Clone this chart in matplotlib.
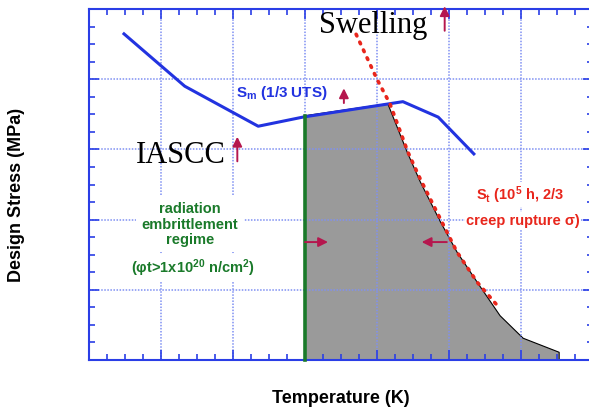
import numpy as np
import matplotlib
matplotlib.use('Agg')
from matplotlib import pyplot as plt
from matplotlib.ticker import MultipleLocator

plt.rcParams['mathtext.fontset'] = 'custom'
plt.rcParams['mathtext.rm'] = 'Liberation Sans'
plt.rcParams['mathtext.bf'] = 'Liberation Sans:bold'
plt.rcParams['mathtext.it'] = 'Liberation Sans:italic'

# S_m (1/3 UTS) curve
sm_T = [0.47, 1.33, 2.35, 2.97, 4.36, 4.85, 5.36]
sm_S = [4.66, 3.90, 3.33, 3.46, 3.68, 3.46, 2.92]

# S_t creep rupture curve (dotted)
st_T = [3.71, 4.00, 4.18, 4.43, 4.60, 4.88, 5.11, 5.39, 5.71]
st_S = [4.64, 4.00, 3.65, 2.96, 2.58, 2.01, 1.54, 1.11, 0.73]

# allowable design window (grey region)
win_T = [3.00, 3.00, 3.60, 4.15, 4.42, 4.60, 4.88, 5.11, 5.43, 5.71, 6.03, 6.53, 6.53]
win_S = [0.00, 3.48, 3.57, 3.65, 2.96, 2.54, 1.97, 1.54, 1.05, 0.63, 0.31, 0.11, 0.00]

# radiation embrittlement limit
rad_T = 3.0
rad_top = 3.48

blue = '#2233e0'
grid_blue = '#7f90f2'
spine_blue = '#2a3ee6'
red = '#e8261c'
green = '#1a7a2a'
crimson = '#b5174e'

fig = plt.figure(figsize=(5.89, 4.10), dpi=100)
ax = fig.add_axes([89/589, 49/410, 504/589, 351/410])
ax.set_xlim(0, 7)
ax.set_ylim(0, 5)

ax.fill(win_T, win_S, facecolor='#9a9a9a', edgecolor='black', lw=0.8, zorder=1)
ax.plot(sm_T, sm_S, color=blue, lw=2.2, zorder=4, solid_capstyle='butt')
ax.plot(st_T, st_S, color=red, lw=2.6, linestyle=(0, (0.5, 1.9)),
        dash_capstyle='round', zorder=4)
ax.plot([rad_T, rad_T], [0, rad_top], color=green, lw=2.6, zorder=5, clip_on=False)

# grid & ticks
ax.xaxis.set_major_locator(MultipleLocator(1))
ax.xaxis.set_minor_locator(MultipleLocator(0.25))
ax.yaxis.set_major_locator(MultipleLocator(1))
ax.yaxis.set_minor_locator(MultipleLocator(0.25))
ax.set_axisbelow('line')
ax.grid(True, which='major', color=grid_blue, linestyle=(0, (1, 1)), lw=1.1)
ax.tick_params(which='both', direction='in', top=True, right=True,
               labelbottom=False, labelleft=False, color=spine_blue)
ax.tick_params(which='major', length=7, width=1.2)
ax.tick_params(which='minor', length=4, width=1.2)
for s in ax.spines.values():
    s.set_color(spine_blue)
    s.set_linewidth(1.5)

# labels
serif = 'Liberation Serif'
sans = 'Liberation Sans'
ax.text(3.19, 4.67, 'Swelling', family=serif, fontsize=22, va='baseline', zorder=6)
ax.text(0.65, 2.82, 'IASCC', family=serif, fontsize=22, va='baseline', zorder=6)
ax.text(2.04, 3.76, r'S$_\mathbf{m}$ (1/3 UTS)', family=sans, fontsize=11,
        weight='bold', color=blue, va='baseline', zorder=6)
ax.text(1.40, 1.94, 'radiation\nembrittlement\nregime', family=sans, fontsize=10.5,
        weight='bold', color=green, ha='center', va='center', linespacing=1.15,
        zorder=6, bbox=dict(facecolor='white', edgecolor='none', pad=4))
ax.text(1.44, 1.32, r'(φt>1x10$^\mathbf{20}$ n/cm$^\mathbf{2}$)', family=sans,
        fontsize=10.5, weight='bold', color=green, ha='center', va='center', zorder=6,
        bbox=dict(facecolor='white', edgecolor='none', pad=2))
ax.text(5.99, 2.36, r'S$_\mathbf{t}$ (10$^\mathbf{5}$ h, 2/3', family=sans, fontsize=10.5,
        weight='bold', color=red, ha='center', va='center', zorder=6,
        bbox=dict(facecolor='white', edgecolor='none', pad=1))
ax.text(6.03, 1.99, 'creep rupture σ)', family=sans, fontsize=10.5,
        weight='bold', color=red, ha='center', va='center', zorder=6,
        bbox=dict(facecolor='white', edgecolor='none', pad=1))

# arrows
arrows = [((4.94, 4.69), (4.94, 5.04)),
          ((2.06, 2.83), (2.06, 3.18)),
          ((3.54, 3.66), (3.54, 3.87)),
          ((3.00, 1.68), (3.32, 1.68)),
          ((4.97, 1.68), (4.62, 1.68))]
for start, end in arrows:
    ax.annotate('', xy=end, xytext=start, annotation_clip=False, zorder=7,
                arrowprops=dict(arrowstyle='-|>', color=crimson, lw=1.4,
                                mutation_scale=14, shrinkA=0, shrinkB=0))

fig.text(17/589, 1 - 195/410, 'Design Stress (MPa)', family=sans, fontsize=13,
         weight='bold', rotation=90, ha='center', va='center')
fig.text(341/589, 1 - 399/410, 'Temperature (K)', family=sans, fontsize=13,
         weight='bold', ha='center', va='center')

fig.savefig('out.png', dpi=100)
